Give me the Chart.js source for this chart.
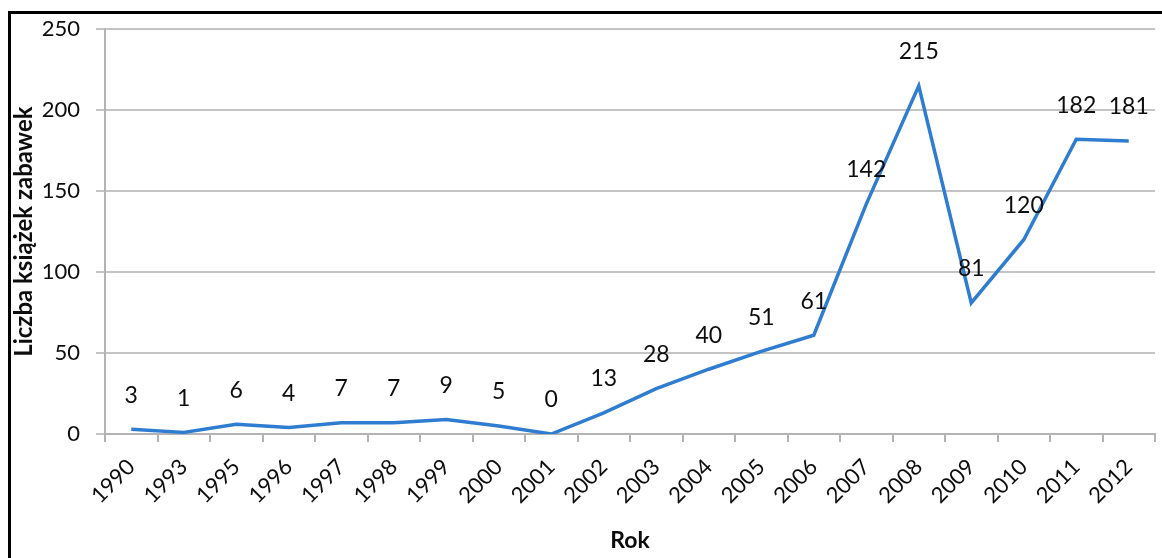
<!DOCTYPE html>
<html>
<head>
<meta charset="utf-8">
<script src="https://cdn.jsdelivr.net/npm/chart.js@4/dist/chart.umd.min.js"></script>
<style>
  html, body { margin: 0; padding: 0; background: #fff; }
  #wrap { position: relative; width: 1162px; height: 558px; }
  #frame {
    position: absolute; left: 8px; top: 11px; right: 0; bottom: 0;
    border-top: 3px solid #000; border-left: 3px solid #000;
    pointer-events: none;
  }
</style>
</head>
<body>
<div id="wrap">
  <canvas id="booksChart" width="1162" height="558"></canvas>
  <div id="frame"></div>
</div>
<script>
const years = ["1990", "1993", "1995", "1996", "1997", "1998", "1999", "2000", "2001", "2002",
  "2003", "2004", "2005", "2006", "2007", "2008", "2009", "2010", "2011", "2012"];
const bookCounts = [3, 1, 6, 4, 7, 7, 9, 5, 0, 13, 28, 40, 51, 61, 142, 215, 81, 120, 182, 181];
const yTicks = [0, 50, 100, 150, 200, 250];

const fontFamily = "Lato, 'Open Sans', sans-serif";

// values written above each point
const pointLabels = {
  id: "pointLabels",
  afterDatasetsDraw: c => {
    const ctx = c.ctx;
    const meta = c.getDatasetMeta(0);
    ctx.save();
    ctx.font = "23px " + fontFamily;
    ctx.fillStyle = "#0d0d0d";
    ctx.textAlign = "center";
    ctx.textBaseline = "middle";
    meta.data.forEach((pt, i) => {
      ctx.fillText(String(bookCounts[i]), pt.x, pt.y - 34);
    });
    ctx.restore();
  }
};

new Chart(document.getElementById("booksChart"), {
  type: "line",
  data: {
    labels: years,
    datasets: [
      {
        label: "Liczba książek zabawek",
        data: bookCounts,
        borderColor: "#2e7dd1",
        borderWidth: 3.5,
        pointRadius: 0,
        tension: 0,
        fill: false
      }
    ]
  },
  options: {
    responsive: false,
    animation: false,
    layout: { padding: { left: 10, top: 23, right: 7, bottom: 4 } },
    plugins: {
      legend: { display: false },
      title: { display: false },
      tooltip: { enabled: false }
    },
    scales: {
      x: {
        offset: true,
        afterFit: s => { s.height = 120; },
        grid: {
          offset: true,
          drawOnChartArea: false,
          tickLength: 8,
          color: "#b3b3b3",
          lineWidth: 2
        },
        border: { color: "#b3b3b3", width: 2 },
        ticks: {
          minRotation: 45,
          maxRotation: 45,
          autoSkip: false,
          padding: 12,
          color: "#0d0d0d",
          font: { family: fontFamily, size: 22 }
        },
        title: {
          display: true,
          text: "Rok",
          color: "#0d0d0d",
          font: { family: fontFamily, size: 23, weight: "bold" },
          padding: { top: 0, bottom: 0 }
        }
      },
      y: {
        min: 0,
        max: 250,
        afterFit: s => { s.width = 95; },
        afterBuildTicks: s => { s.ticks = yTicks.map(v => ({ value: v })); },
        grid: {
          color: "#c4c4c4",
          lineWidth: 2,
          tickLength: 9
        },
        border: { color: "#b3b3b3", width: 2 },
        ticks: {
          color: "#0d0d0d",
          padding: 16,
          font: { family: fontFamily, size: 22 }
        },
        title: {
          display: true,
          text: "Liczba książek zabawek",
          color: "#0d0d0d",
          font: { family: fontFamily, size: 24, weight: "bold" },
          padding: { top: 0, bottom: 0 }
        }
      }
    }
  },
  plugins: [pointLabels]
});
</script>
</body>
</html>
